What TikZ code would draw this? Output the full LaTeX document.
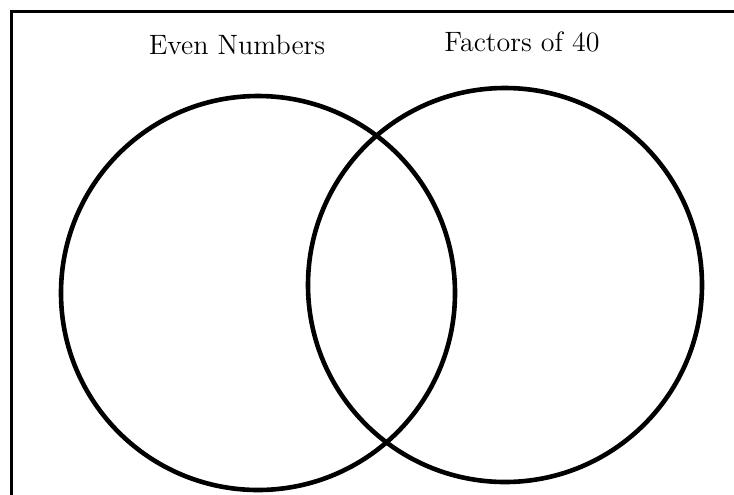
\documentclass[tikz,border=0pt]{standalone}
\usepackage{tikz}
\usetikzlibrary{positioning}
\tikzset{
  kor/.style={circle,draw,line width=2.3pt,inner sep=0pt,minimum size=197pt},
  keret/.style={line width=1.5pt},
  felirat/.style={font=\fontsize{14}{16}\selectfont},
}
\begin{document}
\begin{tikzpicture}[x=0.5pt,y=-0.5pt]
  \useasboundingbox (0,0) rectangle (734,494);
  \coordinate (ka) at (11.5,500);
  \coordinate (kb) at (11.5,11.5);
  \coordinate (kc) at (740,11.5);
  \draw[keret] (ka) -- (kb) -- (kc);
  \node[kor] (even) at (258,293) {};
  \node[kor] (fac) at (505,285) {};
  \node[felirat] (evenlbl) at (237,45) {Even Numbers};
  \node[felirat] (faclbl) at (522,42) {Factors of 40};
\end{tikzpicture}
\end{document}
